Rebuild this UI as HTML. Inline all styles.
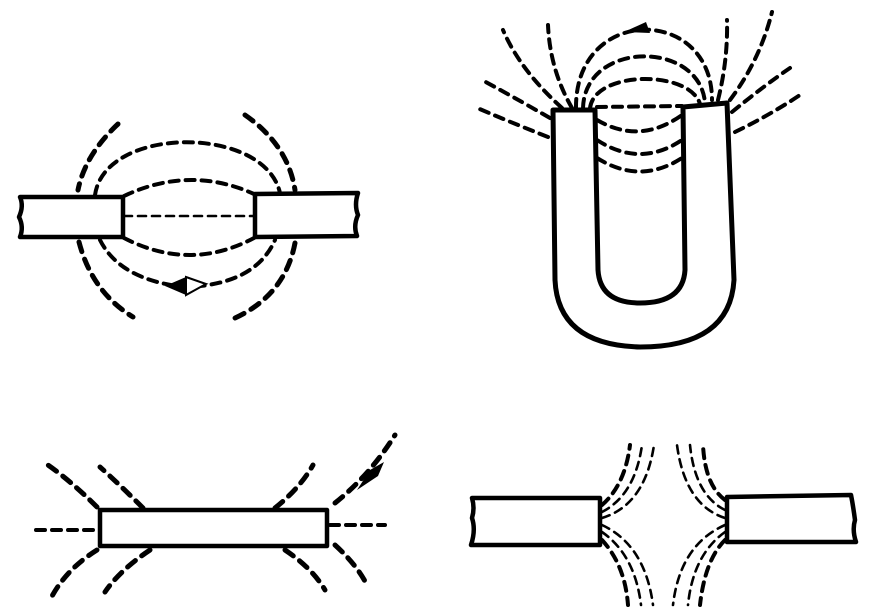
<!DOCTYPE html>
<html><head><meta charset="utf-8"><style>
html,body{margin:0;padding:0;background:#fff;width:879px;height:613px;overflow:hidden}
svg{display:block}
.bar{fill:#fff;stroke:#000;stroke-width:4.5;stroke-linejoin:round}
.d{fill:none;stroke:#000;stroke-linecap:round}
.t{stroke-width:5;stroke-dasharray:10 8}
.m{stroke-width:4;stroke-dasharray:9 7}
.s{stroke-width:2.6;stroke-dasharray:8 6}
</style></head><body>
<svg width="879" height="613" viewBox="0 0 879 613">
<g>
<path class="bar" d="M20,197 L123,197 L123,237 L20,237 Q24,227 19,217 Q24,206 20,197 Z"/>
<path class="bar" d="M255,194 L358,193 Q354,205 358,215 Q353,226 357,236 L255,237 Z"/>
<path class="d s" d="M124,216 L254,216"/>
<path class="d m" d="M124,196 Q190,165 254,194"/>
<path class="d m" d="M124,238 Q190,272 254,238"/>
<path class="d m" d="M95,195 C105,125 265,125 280,193"/>
<path class="d m" d="M100,240 Q120,280 185,287 Q255,285 275,240"/>
<path d="M165,286 L186,277 L186,295 Z" fill="#000"/>
<path d="M186,277 L206,284 L186,295 Z" fill="#fff" stroke="#000" stroke-width="2"/>
<path class="d t" d="M118,124 Q85,155 78,190"/>
<path class="d t" d="M79,242 Q92,292 133,317"/>
<path class="d t" d="M245,115 Q288,145 295,190"/>
<path class="d t" d="M295,243 Q285,295 235,318"/>
</g>
<g>
<path d="M553,110 L595,110 L598,270 Q600,303 640,303 Q683,303 685,270 L683,107 L727,103 L734,280 Q730,347 640,347 Q558,345 555,280 Z" fill="#fff" stroke="#000" stroke-width="5" stroke-linejoin="round"/>
<path class="d m" d="M597,107 L682,106"/>
<path class="d m" d="M597,120 Q640,145 682,115"/>
<path class="d m" d="M597,140 Q640,168 682,140"/>
<path class="d m" d="M597,158 Q640,185 682,158"/>
<path class="d m" d="M590,108 C595,70 690,70 700,104"/>
<path class="d m" d="M583,108 C585,40 700,40 705,103"/>
<path class="d m" d="M576,108 C575,5 712,5 712,100"/>
<path d="M624,32 L646,22 L650,33 Z" fill="#000"/>
<path class="d m" d="M562,108 Q520,70 503,30"/>
<path class="d m" d="M572,108 Q550,70 548,25"/>
<path class="d m" d="M550,118 Q510,95 482,80"/>
<path class="d m" d="M548,137 Q505,120 475,107"/>
<path class="d m" d="M718,100 Q728,60 727,20"/>
<path class="d m" d="M730,100 Q760,60 772,12"/>
<path class="d m" d="M732,112 Q765,85 790,68"/>
<path class="d m" d="M735,132 Q770,115 800,95"/>
</g>
<g>
<rect class="bar" x="100" y="510" width="227" height="36"/>
<path class="d t" d="M97,507 Q70,480 45,463"/>
<path class="d t" d="M143,508 Q120,485 100,467"/>
<path class="d t" d="M275,508 Q300,488 313,465"/>
<path class="d t" d="M335,503 Q370,475 395,435"/>
<path d="M357,490 L370,470 L384,462 L378,476 Z" fill="#000"/>
<path class="d m" d="M36,530 L97,530"/>
<path class="d m" d="M330,525 L385,525"/>
<path class="d t" d="M97,550 Q65,570 50,600"/>
<path class="d t" d="M150,550 Q120,570 105,592"/>
<path class="d t" d="M285,550 Q312,568 325,590"/>
<path class="d t" d="M335,545 Q357,565 367,585"/>
</g>
<g>
<path class="bar" d="M472,498 L600,498 L600,545 L471,545 Q476,530 472,518 Q475,508 472,498 Z"/>
<path class="bar" d="M727,497 L851,495 Q853,505 855,520 Q852,530 856,542 L727,542 Z"/>
<path class="d m" d="M602,505 Q625,485 630,445"/>
<path class="d s" d="M602,512 Q635,495 642,445"/>
<path class="d s" d="M602,518 Q645,505 654,445"/>
<path class="d m" d="M602,540 Q625,565 628,605"/>
<path class="d s" d="M602,532 Q635,555 641,605"/>
<path class="d s" d="M602,525 Q645,545 653,605"/>
<path class="d m" d="M725,500 Q705,485 703,445"/>
<path class="d s" d="M725,510 Q695,495 690,445"/>
<path class="d s" d="M725,518 Q685,505 677,445"/>
<path class="d m" d="M725,540 Q705,560 700,605"/>
<path class="d s" d="M725,532 Q693,555 688,605"/>
<path class="d s" d="M725,525 Q680,545 673,605"/>
</g>
</svg>
</body></html>
